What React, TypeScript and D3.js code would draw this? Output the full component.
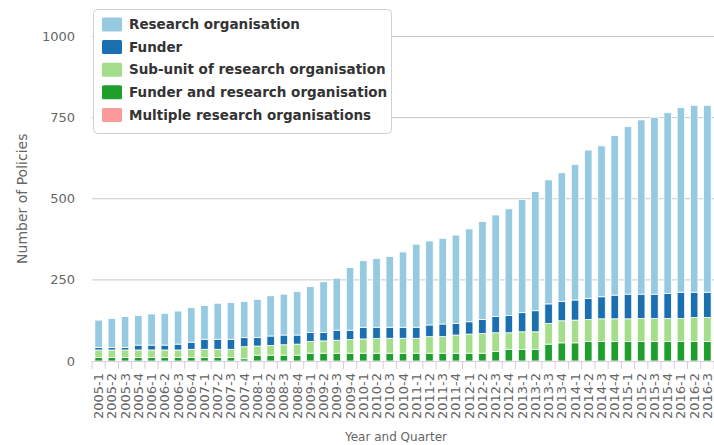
import React from "react";
import * as d3 from "d3";

const quarters = [
  "2005-1", "2005-2", "2005-3", "2005-4",
  "2006-1", "2006-2", "2006-3", "2006-4",
  "2007-1", "2007-2", "2007-3", "2007-4",
  "2008-1", "2008-2", "2008-3", "2008-4",
  "2009-1", "2009-2", "2009-3", "2009-4",
  "2010-1", "2010-2", "2010-3", "2010-4",
  "2011-1", "2011-2", "2011-3", "2011-4",
  "2012-1", "2012-2", "2012-3", "2012-4",
  "2013-1", "2013-2", "2013-3", "2013-4",
  "2014-1", "2014-2", "2014-3", "2014-4",
  "2015-1", "2015-2", "2015-3", "2015-4",
  "2016-1", "2016-2", "2016-3",
];

const researchOrganisation = [
  84, 89, 95, 91, 96, 98, 102, 106, 104, 111, 113, 111,
  118, 124, 126, 134, 141, 156, 160, 193, 205, 212, 218, 232,
  256, 259, 264, 272, 286, 302, 313, 329, 349, 367, 382, 397,
  418, 457, 465, 492, 516, 537, 545, 557, 569, 576, 576,
];
const funder = [
  8, 8, 8, 15, 15, 15, 18, 22, 31, 31, 31, 28,
  26, 29, 30, 28, 28, 26, 31, 29, 36, 35, 34, 34,
  34, 36, 39, 36, 38, 43, 50, 53, 59, 65, 60, 59,
  62, 65, 68, 73, 76, 75, 75, 77, 81, 78, 78,
];
const subUnit = [
  23, 23, 23, 23, 23, 23, 23, 25, 25, 25, 25, 37,
  28, 30, 32, 34, 36, 38, 40, 42, 44, 45, 46, 46,
  46, 51, 51, 56, 59, 61, 58, 51, 54, 54, 64, 68,
  70, 68, 70, 70, 70, 71, 71, 71, 71, 74, 74,
];
const funderAndResearch = [
  11, 11, 11, 11, 11, 11, 11, 11, 11, 11, 11, 7,
  18, 18, 18, 18, 24, 24, 24, 24, 24, 24, 24, 24,
  24, 24, 24, 24, 24, 24, 29, 36, 36, 36, 52, 56,
  56, 60, 60, 60, 60, 60, 60, 60, 60, 60, 60,
];
const multipleResearch = [
  0, 0, 0, 0, 0, 0, 0, 0, 0, 0, 0, 0,
  0, 0, 0, 0, 0, 0, 0, 0, 0, 0, 0, 0,
  0, 0, 0, 0, 0, 0, 0, 0, 0, 0, 0, 0,
  0, 0, 0, 0, 0, 0, 0, 0, 0, 0, 0,
];

const seriesNames = [
  "Research organisation",
  "Funder",
  "Sub-unit of research organisation",
  "Funder and research organisation",
  "Multiple research organisations",
];
const seriesKeys = ["ro", "funder", "sub", "fro", "multi"];
const seriesColors = ["#95cae1", "#1a6fb1", "#a4de8a", "#1e9e2c", "#fb9a99"];
const yTicks = [0, 250, 500, 750, 1000];

const W = 714;
const H = 445;
const plotLeft = 92;
const plotRight = 714;
const plotTop = 36.5;
const plotBottom = 361;

export default function App() {
  const rows = quarters.map((q, i) => ({
    q,
    ro: researchOrganisation[i],
    funder: funder[i],
    sub: subUnit[i],
    fro: funderAndResearch[i],
    multi: multipleResearch[i],
  }));

  const x = d3
    .scaleBand<string>()
    .domain(quarters)
    .range([plotLeft, plotRight])
    .paddingInner(0.47)
    .paddingOuter(0.235);
  const step = x.step();
  const y = d3.scaleLinear().domain([0, 1000]).range([plotBottom, plotTop]);

  // stack bottom to top: multiple, fro, sub, funder, ro
  const stackKeys = [...seriesKeys].reverse();
  const stacked = d3.stack<any>().keys(stackKeys)(rows as any);

  const font = "'DejaVu Sans', sans-serif";
  const legendY0 = 24.5;
  const legendGap = 22.6;

  return (
    <div style={{ position: "absolute", left: 0, top: 0 }}>
      <svg width={W} height={H} style={{ display: "block", background: "#fff" }}>
        {/* grid */}
        {yTicks.filter((t) => t > 0).map((t) => (
          <line key={t} x1={plotLeft} x2={plotRight} y1={y(t)} y2={y(t)} stroke="#c8c8c8" strokeWidth={1} />
        ))}
        {/* bars */}
        {stacked.map((layer) => {
          const k = layer.key;
          const color = seriesColors[seriesKeys.indexOf(k)];
          return (
            <g key={k} fill={color}>
              {layer.map((d, i) => {
                const h = y(d[0]) - y(d[1]);
                if (h <= 0) return null;
                return (
                  <rect
                    key={i}
                    x={x(quarters[i])! - 0.25}
                    width={x.bandwidth() + 0.5}
                    y={y(d[1])}
                    height={h}
                    stroke="#fff"
                    strokeWidth={0.8}
                  />
                );
              })}
            </g>
          );
        })}
        {/* x axis */}
        <line x1={plotLeft} x2={plotRight} y1={plotBottom + 0.5} y2={plotBottom + 0.5} stroke="#d8d0e4" strokeWidth={1} />
        {d3.range(quarters.length + 1).map((k) => (
          <line
            key={k}
            x1={plotLeft + step * k}
            x2={plotLeft + step * k}
            y1={plotBottom}
            y2={plotBottom + 8}
            stroke="#e0c8e0"
            strokeWidth={1}
          />
        ))}
        {quarters.map((q) => (
          <text
            key={q}
            transform={`translate(${x(q)! + x.bandwidth() / 2},373) rotate(-90)`}
            textAnchor="end"
            dominantBaseline="central"
            fontFamily={font}
            fontSize={13}
            fill="#666"
          >
            {q}
          </text>
        ))}
        <text x={396} y={441} textAnchor="middle" fontFamily={font} fontSize={12} fill="#666">
          Year and Quarter
        </text>
        {/* y axis */}
        {yTicks.map((t) => (
          <text key={t} x={75} y={y(t)} dy="0.35em" textAnchor="end" fontFamily={font} fontSize={13} fill="#666">
            {t}
          </text>
        ))}
        <text
          transform={`translate(22,${(plotTop + plotBottom) / 2}) rotate(-90)`}
          textAnchor="middle"
          dominantBaseline="central"
          fontFamily={font}
          fontSize={14}
          fill="#666"
        >
          Number of Policies
        </text>
        {/* legend */}
        <rect x={93.5} y={9.5} width={298} height={124} rx={4} fill="#fff" stroke="#d0d0d0" strokeWidth={1} />
        {seriesNames.map((name, i) => (
          <g key={name} transform={`translate(0,${legendY0 + legendGap * i})`}>
            <rect x={102} y={-7} width={20} height={14} rx={1.5} fill={seriesColors[i]} />
            <text x={129} y={0} dy="0.35em" fontFamily={font} fontWeight="bold" fontSize={13.5} fill="#333">
              {name}
            </text>
          </g>
        ))}
      </svg>
    </div>
  );
}
